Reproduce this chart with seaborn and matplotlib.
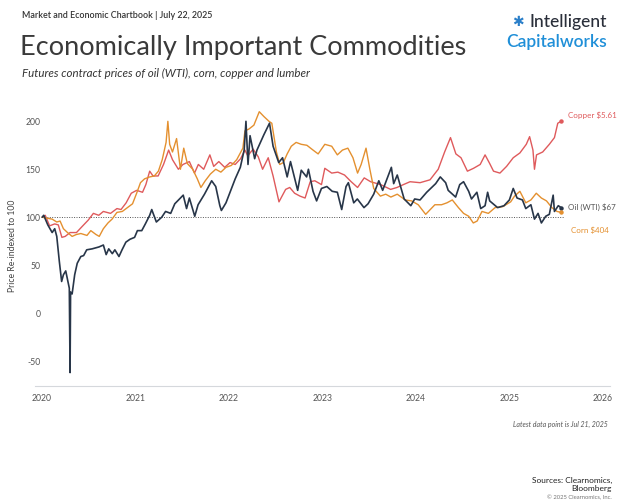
import pandas as pd
import numpy as np
import matplotlib
matplotlib.use('Agg')
import matplotlib.pyplot as plt
import matplotlib.dates as mdates
import seaborn as sns

############### data (re-indexed to 100 at Jan 2020)
oil_dates = ['2020-01-02', '2020-01-08', '2020-01-24', '2020-02-10', '2020-02-20', '2020-02-28',
             '2020-03-09', '2020-03-18', '2020-03-25', '2020-04-03', '2020-04-14', '2020-04-17',
             '2020-04-20', '2020-04-22', '2020-04-28', '2020-05-08', '2020-05-18', '2020-06-01',
             '2020-06-12', '2020-06-24', '2020-07-15', '2020-08-11', '2020-08-28', '2020-09-08',
             '2020-09-18', '2020-10-02', '2020-10-12', '2020-10-28', '2020-11-09', '2020-11-24',
             '2020-12-10', '2020-12-28', '2021-01-08', '2021-01-25', '2021-02-08', '2021-02-25',
             '2021-03-05', '2021-03-23', '2021-04-13', '2021-04-28', '2021-05-18', '2021-06-03',
             '2021-06-25', '2021-07-06', '2021-07-19', '2021-07-30', '2021-08-20', '2021-09-02',
             '2021-09-27', '2021-10-25', '2021-11-10', '2021-11-26', '2021-12-02', '2021-12-20',
             '2022-01-05', '2022-01-25', '2022-02-14', '2022-03-01', '2022-03-08', '2022-03-16',
             '2022-03-24', '2022-04-11', '2022-04-20', '2022-05-17', '2022-06-08', '2022-06-22',
             '2022-07-14', '2022-07-29', '2022-08-16', '2022-08-29', '2022-09-26', '2022-10-10',
             '2022-10-31', '2022-11-07', '2022-11-25', '2022-12-09', '2022-12-28', '2023-01-18',
             '2023-02-08', '2023-02-28', '2023-03-17', '2023-04-03', '2023-04-12', '2023-05-03',
             '2023-05-17', '2023-06-12', '2023-06-28', '2023-07-20', '2023-08-09', '2023-08-24',
             '2023-09-27', '2023-10-06', '2023-10-20', '2023-11-16', '2023-12-12', '2023-12-27',
             '2024-01-17', '2024-02-12', '2024-03-18', '2024-04-05', '2024-04-26', '2024-05-06',
             '2024-06-04', '2024-06-20', '2024-07-05', '2024-07-25', '2024-08-05', '2024-08-26',
             '2024-09-10', '2024-09-27', '2024-10-07', '2024-10-15', '2024-11-15', '2024-12-10',
             '2024-12-31', '2025-01-15', '2025-01-30', '2025-02-20', '2025-03-05', '2025-03-25',
             '2025-04-08', '2025-04-22', '2025-05-05', '2025-05-22', '2025-06-05', '2025-06-20',
             '2025-06-25', '2025-07-10', '2025-07-21']
oil_vals = [100, 102, 92, 84, 88, 80,
            54, 33, 40, 44, 30, 26,
            -62, 22, 20, 40, 52, 59,
            60, 66, 67, 69, 71, 61,
            67, 62, 66, 59, 66, 74,
            77, 79, 86, 86, 93, 102,
            108, 95, 100, 106, 104, 114,
            120, 123, 109, 120, 101, 113,
            124, 138, 132, 112, 107, 115,
            126, 140, 152, 170, 200, 155,
            185, 161, 170, 186, 198, 174,
            157, 162, 142, 158, 128, 149,
            142, 150, 127, 117, 130, 132,
            127, 126, 108, 132, 136, 115,
            119, 110, 114, 124, 138, 128,
            152, 135, 144, 119, 112, 119,
            118, 126, 135, 142, 136, 128,
            121, 134, 137, 127, 119, 126,
            109, 112, 126, 117, 110, 112,
            118, 130, 120, 118, 109, 113,
            98, 104, 94, 101, 103, 123,
            106, 112, 110]

copper_dates = ['2020-01-02', '2020-01-14', '2020-01-31', '2020-02-20', '2020-03-05', '2020-03-19',
                '2020-04-01', '2020-04-20', '2020-05-15', '2020-06-05', '2020-06-30', '2020-07-20',
                '2020-08-10', '2020-08-28', '2020-09-25', '2020-10-20', '2020-11-05', '2020-11-25',
                '2020-12-15', '2021-01-05', '2021-01-28', '2021-02-10', '2021-02-25', '2021-03-10',
                '2021-03-30', '2021-04-20', '2021-05-10', '2021-05-25', '2021-06-17', '2021-07-05',
                '2021-07-30', '2021-08-19', '2021-09-03', '2021-09-24', '2021-10-18', '2021-11-02',
                '2021-11-22', '2021-12-15', '2022-01-05', '2022-01-25', '2022-02-15', '2022-03-04',
                '2022-03-15', '2022-04-05', '2022-04-25', '2022-05-12', '2022-06-03', '2022-06-22',
                '2022-07-15', '2022-08-10', '2022-08-26', '2022-09-14', '2022-10-05', '2022-10-25',
                '2022-11-14', '2022-12-02', '2022-12-28', '2023-01-10', '2023-02-06', '2023-03-02',
                '2023-03-28', '2023-04-23', '2023-05-18', '2023-06-13', '2023-07-08', '2023-08-16',
                '2023-09-24', '2023-10-19', '2023-11-13', '2023-12-09', '2024-01-17', '2024-02-25',
                '2024-03-28', '2024-04-22', '2024-05-15', '2024-06-05', '2024-06-25', '2024-07-20',
                '2024-08-13', '2024-09-08', '2024-09-27', '2024-10-15', '2024-10-30', '2024-11-24',
                '2024-12-20', '2025-01-15', '2025-02-10', '2025-03-07', '2025-03-20', '2025-04-02',
                '2025-04-08', '2025-04-16', '2025-05-10', '2025-06-05', '2025-06-25', '2025-07-08',
                '2025-07-21']
copper_vals = [100, 102, 91, 93, 92, 79,
               80, 84, 84, 90, 97, 104,
               102, 106, 104, 109, 108, 115,
               125, 128, 126, 134, 148, 143,
               143, 155, 170, 160, 150, 155,
               158, 146, 155, 150, 165, 153,
               158, 152, 157, 155, 161, 170,
               164, 171, 163, 150, 162, 143,
               116, 129, 131, 125, 122, 120,
               137, 138, 134, 151, 146, 147,
               144, 137, 131, 141, 137, 134,
               129, 131, 134, 137, 136, 139,
               150, 168, 183, 166, 162, 148,
               151, 155, 165, 156, 148, 146,
               153, 162, 167, 176, 184, 170,
               150, 165, 168, 176, 183, 198,
               200]

corn_dates = ['2020-01-02', '2020-01-20', '2020-02-10', '2020-02-28', '2020-03-12', '2020-03-25',
              '2020-04-10', '2020-04-28', '2020-05-15', '2020-06-01', '2020-06-25', '2020-07-10',
              '2020-07-30', '2020-08-12', '2020-08-28', '2020-09-15', '2020-10-01', '2020-10-20',
              '2020-11-10', '2020-11-30', '2020-12-20', '2021-01-05', '2021-01-20', '2021-02-05',
              '2021-02-25', '2021-03-15', '2021-03-31', '2021-04-15', '2021-04-30', '2021-05-07',
              '2021-05-14', '2021-05-25', '2021-06-10', '2021-06-25', '2021-07-08', '2021-07-22',
              '2021-08-12', '2021-08-30', '2021-09-13', '2021-09-30', '2021-10-20', '2021-11-10',
              '2021-11-30', '2021-12-20', '2022-01-10', '2022-01-31', '2022-02-24', '2022-03-04',
              '2022-03-20', '2022-04-08', '2022-04-29', '2022-05-17', '2022-06-06', '2022-06-17',
              '2022-07-05', '2022-07-18', '2022-08-01', '2022-08-16', '2022-09-01', '2022-09-20',
              '2022-10-10', '2022-11-01', '2022-11-25', '2022-12-15', '2023-01-10', '2023-02-06',
              '2023-02-28', '2023-03-20', '2023-04-10', '2023-04-30', '2023-05-18', '2023-06-01',
              '2023-06-20', '2023-07-05', '2023-07-20', '2023-08-15', '2023-09-05', '2023-09-25',
              '2023-10-20', '2023-11-20', '2023-12-15', '2024-01-10', '2024-02-08', '2024-02-26',
              '2024-03-15', '2024-04-10', '2024-05-01', '2024-05-22', '2024-06-15', '2024-07-05',
              '2024-07-25', '2024-08-12', '2024-08-27', '2024-09-15', '2024-10-10', '2024-11-05',
              '2024-12-05', '2025-01-05', '2025-01-20', '2025-02-10', '2025-03-05', '2025-03-25',
              '2025-04-15', '2025-05-05', '2025-05-25', '2025-06-15', '2025-07-05', '2025-07-21']
corn_vals = [100, 99, 98, 95, 96, 88,
             84, 80, 82, 83, 81, 86,
             82, 80, 88, 94, 98, 105,
             106, 110, 114, 125, 136, 140,
             142, 143, 148, 160, 178, 200,
             176, 168, 182, 150, 172, 156,
             150, 140, 131, 138, 145, 150,
             147, 152, 154, 160, 172, 190,
             192, 196, 210, 205, 200, 198,
             168, 155, 157, 166, 174, 178,
             176, 175, 170, 166, 176, 174,
             165, 170, 172, 162, 146, 155,
             172, 150, 130, 122, 124, 121,
             124, 118, 117, 113, 103, 108,
             113, 113, 115, 118, 110, 104,
             101, 94, 96, 106, 104, 110,
             111, 116, 122, 127, 115, 118,
             125, 120, 117, 110, 106, 105]

series_names = ['Oil (WTI)', 'Corn', 'Copper']
end_labels = {'Oil (WTI)': 'Oil (WTI) $67', 'Corn': 'Corn $404', 'Copper': 'Copper $5.61'}
year_ticks = [2020, 2021, 2022, 2023, 2024, 2025, 2026]
y_ticks = [-50, 0, 50, 100, 150, 200]

palette = {'Oil (WTI)': '#283649', 'Corn': '#e4902f', 'Copper': '#df5a5c'}

df = pd.concat([
    pd.DataFrame({'date': pd.to_datetime(oil_dates), 'value': oil_vals, 'series': 'Oil (WTI)'}),
    pd.DataFrame({'date': pd.to_datetime(corn_dates), 'value': corn_vals, 'series': 'Corn'}),
    pd.DataFrame({'date': pd.to_datetime(copper_dates), 'value': copper_vals, 'series': 'Copper'}),
], ignore_index=True)

############### figure
sns.set_theme(style='white')
plt.rcParams['font.family'] = ['Lato', 'DejaVu Sans']

W, H = 618, 503
fig = plt.figure(figsize=(W / 100, H / 100), dpi=100)
ax = fig.add_axes([35 / W, 1 - 386 / H, (610 - 35) / W, (386 - 105) / H])

def px(x, y):
    # pixel position in the figure -> figure fraction
    return x / W, 1 - y / H

# draw in the same order as the reference (copper at the back)
widths = {'Copper': 1.0, 'Corn': 1.0, 'Oil (WTI)': 1.2}
for name in ['Copper', 'Corn', 'Oil (WTI)']:
    sub = df[df['series'] == name]
    sns.lineplot(data=sub, x='date', y='value', color=palette[name],
                 linewidth=widths[name], ax=ax, legend=False)

ax.hlines(100, pd.Timestamp('2020-01-01'), pd.Timestamp('2025-07-31'),
          colors='#555555', linestyles=(0, (1, 1.5)), linewidth=0.7, zorder=0)

# end markers and labels
offsets = {'Oil (WTI)': (5, 0), 'Corn': (7, -13), 'Copper': (5, 4)}
for name in series_names:
    sub = df[df['series'] == name]
    last = sub.iloc[-1]
    ax.plot(last['date'], last['value'], 'o', ms=2.2, color=palette[name])
    ax.annotate(end_labels[name], (last['date'], last['value']),
                xytext=offsets[name], textcoords='offset points',
                fontsize=5.8, color='#555555' if name == 'Oil (WTI)' else palette[name],
                va='center', ha='left')

ax.set_xlim(pd.Timestamp('2019-12-05'), pd.Timestamp('2026-01-28'))
ax.set_ylim(-76, 217)
ax.set_xticks([pd.Timestamp(f'{y}-01-01') for y in year_ticks])
ax.set_xticklabels([str(y) for y in year_ticks])
ax.set_yticks(y_ticks)
ax.set_yticklabels([str(v) for v in y_ticks])
ax.tick_params(axis='both', length=0, labelsize=6.2, labelcolor='#555555')
ax.tick_params(axis='x', pad=6)
ax.tick_params(axis='y', pad=-4)
ax.set_xlabel('')
ax.set_ylabel('Price Re-indexed to 100', fontsize=6.2, color='#444444', labelpad=6)

for s in ['top', 'right', 'left']:
    ax.spines[s].set_visible(False)
ax.spines['bottom'].set_color('#d5d8dc')
ax.spines['bottom'].set_linewidth(0.8)

############### header / footer texts
fig.text(*px(22, 16), 'Market and Economic Chartbook | July 22, 2025', fontsize=6.4,
         color='#333333', fontweight='semibold', va='center')
fig.text(*px(20, 47), 'Economically Important Commodities', fontsize=19.5,
         color='#3a3a3a', fontweight='normal', va='center')
fig.text(*px(22, 73), 'Futures contract prices of oil (WTI), corn, copper and lumber',
         fontsize=8.3, color='#333333', style='italic', va='center')

fig.text(*px(607, 22), 'Intelligent', fontsize=12.5, color='#2a2f3a', ha='right', va='center',
         fontweight='medium')
fig.text(*px(607, 42), 'Capitalworks', fontsize=12.5, color='#1f8fd8', ha='right', va='center',
         fontweight='semibold')
fig.text(*px(518, 22), '\u2731', fontsize=10, color='#2a7fc9', ha='center', va='center',
         family=['DejaVu Sans'])

fig.text(*px(608, 424), 'Latest data point is Jul 21, 2025', fontsize=5.0,
         color='#555555', style='italic', ha='right', va='center')
fig.text(*px(612, 480), 'Sources: Clearnomics,', fontsize=6.0, color='#222222',
         ha='right', va='center')
fig.text(*px(612, 489), 'Bloomberg', fontsize=6.0, color='#222222', ha='right', va='center')
fig.text(*px(612, 498), '\u00a9 2025 Clearnomics, Inc.', fontsize=4.2, color='#777777',
         ha='right', va='center')

fig.savefig('out.png', dpi=100)
